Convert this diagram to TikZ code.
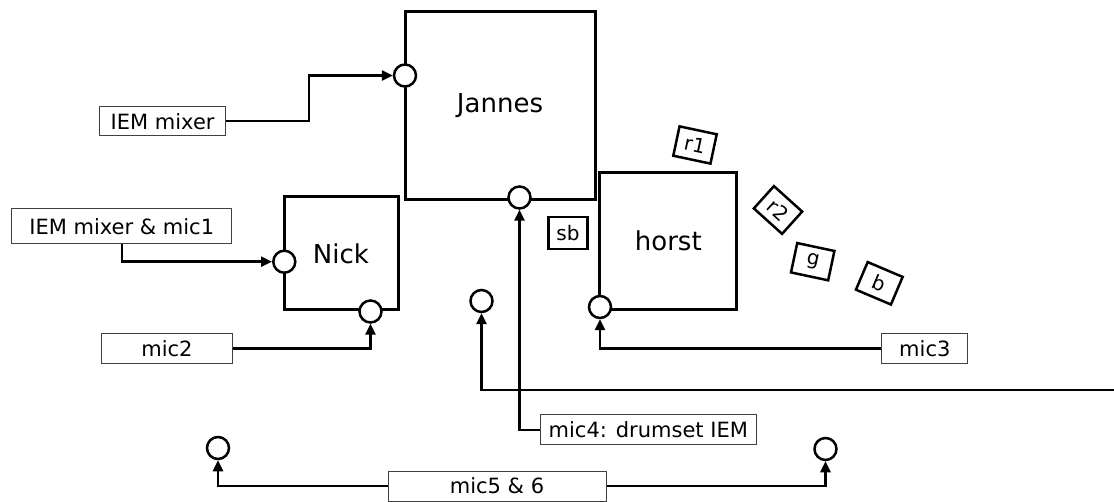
\documentclass[tikz,border=0pt]{standalone}
\usepackage{fontspec}
\setmainfont{DejaVu Sans}
\usetikzlibrary{arrows.meta}
\begin{document}
\begin{tikzpicture}[x=1pt,y=-1pt,
  lbl/.style={draw=black!75,line width=1pt,fill=white,inner sep=0pt,font=\fontsize{21}{24}\selectfont},
  person/.style={draw,line width=3pt,inner sep=0pt,font=\fontsize{26}{30}\selectfont},
  port/.style={circle,draw,line width=2.5pt,fill=white,minimum size=22pt,inner sep=0pt},
  conn/.style={line width=2.5pt,-{Triangle[length=11pt,width=10pt]}},
  tag/.style={draw,line width=2.5pt,minimum width=38pt,minimum height=30pt,inner sep=0pt,font=\fontsize{20}{24}\selectfont}]
\useasboundingbox (0,0) rectangle (1114,502);

% persons
\node[person,minimum width=190pt,minimum height=188pt] (J) at (500,106) {Jannes};
\node[person,minimum width=114pt,minimum height=113pt] (N) at (341,253.5) {Nick};
\node[person,minimum width=137pt,minimum height=137pt] (H) at (668.3,241.3) {horst};

% small tags
\node[tag,minimum width=39pt,minimum height=32pt] (sb) at (568,233) {sb};
\node[tag,rotate=-12] (r1) at (695,145) {r1};
\node[tag,rotate=-42] (r2) at (778,210) {r2};
\node[tag,rotate=-12] (g) at (812.7,261.7) {g};
\node[tag,rotate=-23] (b) at (879.3,283.3) {b};

% ports
\node[port] (cJ) at (405,75.5) {};
\node[port] (cJb) at (519.5,197.5) {};
\node[port] (cN) at (284.3,261.7) {};
\node[port] (cNb) at (370.5,311.5) {};
\node[port] (cH) at (600,307) {};
\node[port] (c4) at (481.5,301) {};
\node[port] (c5) at (218,448) {};
\node[port] (c6) at (825.5,449) {};

% labels
\node[lbl,minimum width=126pt,minimum height=29pt] (iem) at (162.6,121.2) {IEM mixer};
\node[lbl,minimum width=220pt,minimum height=35pt] (iemm) at (121.75,226.5) {IEM mixer \& mic1};
\node[lbl,minimum width=131pt,minimum height=30pt] (mic2) at (167,348.3) {mic2};
\node[lbl,minimum width=86pt,minimum height=30pt] (mic3) at (924.8,348.3) {mic3};
\node[lbl,minimum width=216pt,minimum height=30pt] (mic4) at (648.3,430) {mic4: drumset IEM};
\node[lbl,minimum width=218pt,minimum height=30pt] (mic56) at (497,486) {mic5 \& 6};

\coordinate (edge) at (1114,390);

% connectors
\draw[conn] (iem.east) -- ++(83,0) |- (cJ.west);
\draw[conn] (iemm.south) |- (cN.west);
\draw[conn] (mic2.east) -| (cNb.south);
\draw[conn] (mic3.west) -| (cH.south);
\draw[conn] (mic4.west) -| (cJb.south);
\draw[conn] (edge) -| (c4.south);
\draw[conn] (mic56.west) -| (c5.south);
\draw[conn] (mic56.east) -| (c6.south);
\end{tikzpicture}
\end{document}
